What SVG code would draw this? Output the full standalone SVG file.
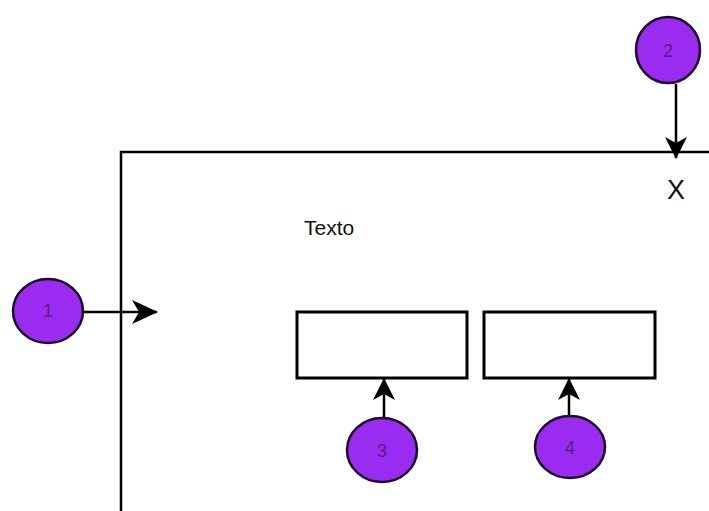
<svg xmlns="http://www.w3.org/2000/svg" width="709" height="511" viewBox="0 0 709 511">
<style>
.c{fill:#9a2cf2;stroke:#1c0a2a;stroke-width:2.5}
.cl{font-family:"Liberation Sans",Arial,sans-serif;font-size:18px;fill:#5a1a8a;text-anchor:middle}
.ln{stroke:#000;stroke-width:2.5;fill:none}
.bx{fill:#fff;stroke:#000;stroke-width:3}
</style>
<defs>
<marker id="ahb" markerWidth="26" markerHeight="24" refX="25" refY="12" orient="auto" markerUnits="userSpaceOnUse" viewBox="0 0 26 24">
<path d="M0,0 L26,12 L0,24 L7,12 Z" fill="#000"/>
</marker>
<marker id="ahs" markerWidth="22" markerHeight="22" refX="21" refY="11" orient="auto" markerUnits="userSpaceOnUse" viewBox="0 0 22 22">
<path d="M0,0 L22,11 L0,22 L6,11 Z" fill="#000"/>
</marker>
</defs>
<rect width="709" height="511" fill="#fff"/>
<g id="frame">
<path class="ln" d="M121,511 L121,152 L709,152"/>
<text x="676" y="199" font-family="Liberation Sans,Arial,sans-serif" font-size="27" text-anchor="middle" fill="#111">X</text>
<text x="304" y="235" font-family="Liberation Sans,Arial,sans-serif" font-size="21" fill="#111">Texto</text>
</g>
<g id="box3"><rect class="bx" x="297" y="312" width="170" height="66"/></g>
<g id="box4"><rect class="bx" x="484" y="312" width="171" height="66"/></g>
<g id="connectors">
<line class="ln" x1="84" y1="312" x2="157" y2="312" marker-end="url(#ahb)"/>
<line class="ln" x1="676" y1="84" x2="676" y2="158" marker-end="url(#ahs)"/>
<line class="ln" x1="384" y1="418" x2="384" y2="379" marker-end="url(#ahs)"/>
<line class="ln" x1="569" y1="415" x2="569" y2="379" marker-end="url(#ahs)"/>
</g>
<g id="n1"><ellipse class="c" cx="48" cy="311" rx="35" ry="32"/><text class="cl" x="48" y="317">1</text></g>
<g id="n2"><ellipse class="c" cx="668" cy="50" rx="32" ry="33"/><text class="cl" x="668" y="57">2</text></g>
<g id="n3"><ellipse class="c" cx="382" cy="450" rx="35" ry="32"/><text class="cl" x="382" y="457">3</text></g>
<g id="n4"><ellipse class="c" cx="570" cy="447" rx="35" ry="31"/><text class="cl" x="570" y="454">4</text></g>
</svg>
